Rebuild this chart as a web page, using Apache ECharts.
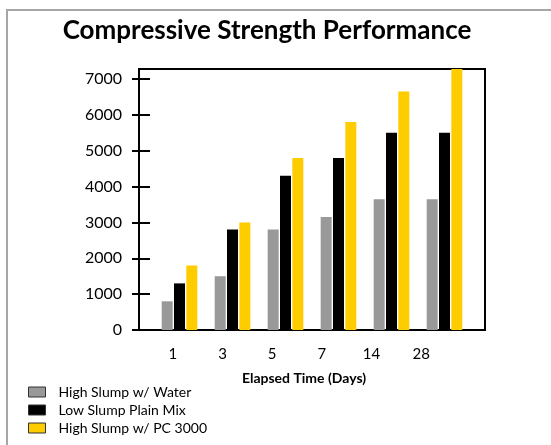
<!DOCTYPE html>
<html>
<head>
<meta charset="utf-8">
<script src="https://cdn.jsdelivr.net/npm/echarts@6/dist/echarts.min.js"></script>
<style>
  html, body { margin: 0; padding: 0; background: #fff; }
  #frame { position: absolute; left: 6px; top: 9px; width: 600px; height: 500px; border: 2px solid #a6a6a6; }
  #main { position: absolute; left: 0; top: 0; width: 551px; height: 445px; }
</style>
</head>
<body>
<div id="frame"></div>
<div id="main"></div>
<script>
// elapsed time categories (days)
var days = ['1', '3', '5', '7', '14', '28'];
var seriesNames = ['High Slump w/ Water', 'Low Slump Plain Mix', 'High Slump w/ PC 3000'];
var highSlumpWater = [800, 1500, 2800, 3150, 3650, 3650];
var lowSlumpPlain = [1300, 2800, 4300, 4800, 5500, 5500];
var highSlumpPC = [1800, 3000, 4800, 5800, 6650, 7300];
var yTicks = [0, 1000, 2000, 3000, 4000, 5000, 6000, 7000];
var colors = ['#999999', '#000000', '#ffcc00'];

var font = 'Lato, "Open Sans", sans-serif';
var yMax = 7280;

var myChart = echarts.init(document.getElementById('main'));

var series = [];
var values = [highSlumpWater, lowSlumpPlain, highSlumpPC];
for (var i = 0; i < seriesNames.length; i++) {
    series.push({
        name: seriesNames[i],
        type: 'bar',
        xAxisIndex: 1,
        yAxisIndex: 2,
        data: values[i],
        barWidth: 11,
        barGap: '12%',
        itemStyle: { color: colors[i] }
    });
}

var option = {
    animation: false,
    title: [
        {
            text: 'Compressive Strength Performance',
            left: 267, top: 18, textAlign: 'center', padding: 0,
            textStyle: { fontFamily: font, fontWeight: 'bold', fontSize: 26, color: '#000' }
        },
        {
            text: 'Elapsed Time (Days)',
            left: 304, top: 371, textAlign: 'center', padding: 0,
            textStyle: { fontFamily: font, fontWeight: 'bold', fontSize: 14, color: '#000' }
        }
    ],
    legend: {
        orient: 'vertical',
        left: 28, top: 385,
        padding: 0,
        itemWidth: 17, itemHeight: 10, itemGap: 4,
        icon: 'rect',
        itemStyle: { borderColor: '#333', borderWidth: 1 },
        textStyle: { fontFamily: font, fontSize: 14, color: '#000', padding: [0, 0, 0, 8] },
        data: seriesNames
    },
    grid: [
        // frame
        { left: 139, right: 66, top: 69, bottom: 115, show: true, borderColor: '#000', borderWidth: 2, backgroundColor: 'transparent' },
        // bars
        { left: 153, width: 318, top: 69, bottom: 115 },
        // x labels
        { left: 148, width: 298, top: 69, bottom: 115 }
    ],
    xAxis: [
        { gridIndex: 0, type: 'category', data: days, show: false },
        { gridIndex: 1, type: 'category', data: days, show: false },
        {
            gridIndex: 2, type: 'category', data: days,
            axisLine: { show: false }, axisTick: { show: false },
            axisLabel: { margin: 17, fontFamily: font, fontSize: 15, color: '#000' }
        }
    ],
    yAxis: [
        {
            gridIndex: 0, type: 'value', position: 'left', min: 0, max: yMax, interval: 1000,
            axisLine: { show: true, lineStyle: { color: '#000', width: 2 } },
            axisTick: { show: true, length: 7, lineStyle: { color: '#000', width: 2 } },
            splitLine: { show: false },
            axisLabel: {
                margin: 17, fontFamily: font, fontSize: 16, color: '#000', showMaxLabel: false,
                formatter: function (v) { return yTicks.indexOf(v) >= 0 ? String(v) : ''; }
            }
        },
        {
            gridIndex: 0, type: 'value', position: 'left', min: 0, max: yMax, interval: 1000,
            axisLine: { show: false },
            axisTick: { show: true, inside: true, length: 11, lineStyle: { color: '#000', width: 2 } },
            axisLabel: { show: false },
            splitLine: { show: false }
        },
        { gridIndex: 1, type: 'value', min: 0, max: yMax, show: false, splitLine: { show: false } },
        { gridIndex: 2, type: 'value', min: 0, max: yMax, show: false, splitLine: { show: false } }
    ],
    series: series
};
myChart.setOption(option);
</script>
</body>
</html>
